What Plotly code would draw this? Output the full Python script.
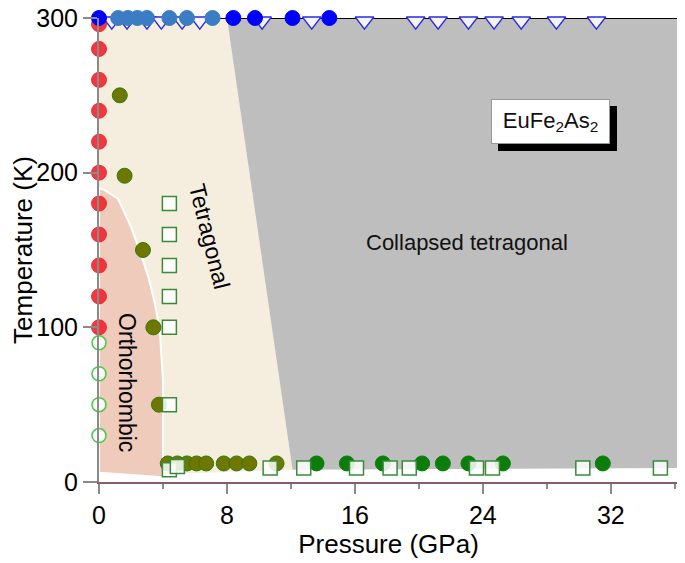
import plotly.graph_objects as go

# Phase regions (pressure GPa, temperature K)
ortho_p = [0, 0, 0.3, 1.2, 2.0, 2.6, 3.1, 3.5, 3.8, 4.0, 4.0, 0]
ortho_t = [6, 190, 189, 183, 165, 148, 132, 115, 98, 66, 3, 6]
tetra_p = [0, 0, 8.0, 12.1, 4.0, 0]
tetra_t = [6, 300, 300, 8, 5, 6]
collapsed_p = [8.0, 36.2, 36.2, 12.1, 8.0]
collapsed_t = [300, 300, 9, 8, 300]

# Measured points
red_p = [0, 0, 0, 0, 0, 0, 0, 0, 0, 0, 0]
red_t = [296, 280, 260, 240, 220, 200, 180, 160, 140, 120, 100]
open_circ_p = [0, 0, 0, 0]
open_circ_t = [90, 70, 50, 30]
olive_p = [1.3, 1.6, 2.75, 3.4, 3.75, 4.3, 4.9, 5.5, 6.1, 6.7, 7.8, 8.6, 9.4, 11.1]
olive_t = [250, 198, 150, 100, 50, 12, 12, 12, 12, 12, 12, 12, 12, 12]
green_p = [13.6, 15.5, 17.75, 20.2, 21.5, 23.1, 25.25, 31.5]
green_t = [12, 12, 12, 12, 12, 12, 12, 12]
square_p = [4.4, 4.4, 4.4, 4.4, 4.4, 4.4, 4.4, 4.9, 10.7, 12.8, 16.1, 18.2, 19.4, 23.6, 24.6, 30.25, 35.1]
square_t = [180, 160, 140, 120, 100, 50, 8, 10, 9, 9, 9, 9, 9, 9, 9, 9, 9]
tri_p = [0.8, 1.75, 3.0, 3.9, 5.2, 6.3, 10.2, 13.3, 16.6, 19.8, 21.2, 23.1, 24.7, 26.4, 28.6, 31.1]
tri_t = [298] * 16
steel_p = [1.2, 1.8, 2.4, 3.0, 4.4, 5.5, 7.1]
steel_t = [300, 300, 300, 300, 300, 300, 300]
blue_p = [0, 8.4, 9.75, 12.1, 14.4]
blue_t = [300, 300, 300, 300, 300]

FONT = "Liberation Sans, Arial, sans-serif"

fig = go.Figure()


def region(px, ty, color, line=None):
    fig.add_scatter(
        x=px, y=ty, fill="toself", fillcolor=color, mode="lines",
        line=line or {"width": 0, "color": color}, hoverinfo="skip", showlegend=False,
    )


region(tetra_p, tetra_t, "#f5eede")
region(collapsed_p, collapsed_t, "#bebebe")
region(ortho_p, ortho_t, "#eecbbb", {"width": 2, "color": "white"})

# frame: top and right edges
fig.add_scatter(x=[0, 36.2], y=[300, 300], mode="lines", line={"color": "black", "width": 2},
                hoverinfo="skip", showlegend=False)
fig.add_scatter(x=[36.2, 36.2], y=[0, 300], mode="lines", line={"color": "#8a8a8a", "width": 2},
                hoverinfo="skip", showlegend=False)


def points(px, ty, symbol, fill, edge, size=15, width=1):
    fig.add_scatter(
        x=px, y=ty, mode="markers", cliponaxis=False, showlegend=False,
        marker={"symbol": symbol, "size": size, "color": fill, "line": {"color": edge, "width": width}},
    )


points(red_p, red_t, "circle", "rgba(240,35,45,0.9)", "rgba(240,35,45,0.9)", 15)
points(open_circ_p, open_circ_t, "circle", "rgba(255,255,255,0.9)", "#44cc44", 14, 1.5)
points(olive_p, olive_t, "circle", "#6e7800", "#2f7a10", 15)
points(green_p, green_t, "circle", "#0a7d0a", "#0a7d0a", 15)
points(square_p, square_t, "square", "rgba(255,255,255,0.85)", "#3a8a3a", 14, 1.5)
points(tri_p, tri_t, "triangle-down", "#f4f4f4", "#2a2ae0", 16, 1.5)
points(steel_p, steel_t, "circle", "#3c7cc4", "#3c7cc4", 15)
points(blue_p, blue_t, "circle", "#0000ff", "#0000ff", 15)

# labels
fig.add_annotation(x=6.9, y=159, text="Tetragonal", showarrow=False, textangle=76,
                   font={"size": 23, "color": "black", "family": FONT})
fig.add_annotation(x=1.75, y=64, text="Orthorhombic", showarrow=False, textangle=90,
                   font={"size": 23, "color": "black", "family": FONT})
fig.add_annotation(x=23.0, y=155, text="Collapsed tetragonal", showarrow=False,
                   font={"size": 22, "color": "#111111", "family": FONT})

label = "EuFe<sub>2</sub>As<sub>2</sub>"
for shift, bg, fg, border in [(7, "black", "black", "black"), (0, "white", "#111111", "#999999")]:
    fig.add_annotation(
        x=28.2, y=233, text=label, showarrow=False, xshift=shift, yshift=-shift,
        width=113, height=39, bgcolor=bg, bordercolor=border, borderwidth=1, borderpad=2,
        font={"size": 22, "color": fg, "family": FONT},
    )

# the page body adds an 8px offset, so the figure is shrunk to fit the window
fig.update_layout(
    width=677,
    height=555,
    margin={"l": 91, "r": 7, "t": 10, "b": 81},
    paper_bgcolor="white",
    plot_bgcolor="white",
    font={"family": FONT, "color": "black"},
)
fig.update_xaxes(
    range=[0, 36.2], tick0=0, dtick=8, showgrid=False, zeroline=False, automargin=False,
    showline=True, linecolor="#8c5b6b", linewidth=2,
    ticks="outside", ticklen=10, tickwidth=2, tickcolor="#8a8a8a",
    minor={"dtick": 4, "ticks": "outside", "ticklen": 5, "tickwidth": 2, "tickcolor": "#8a8a8a"},
    tickfont={"size": 25}, title={"text": "Pressure (GPa)", "font": {"size": 26}, "standoff": 6},
)
fig.update_yaxes(
    range=[0, 300], tick0=0, dtick=100, showgrid=False, zeroline=False, automargin=False,
    showline=True, linecolor="#8a8a8a", linewidth=2, ticklabeloverflow="allow",
    ticks="outside", ticklen=14, tickwidth=2, tickcolor="#8a8a8a",
    tickfont={"size": 25}, title={"text": "Temperature (K)", "font": {"size": 26}, "standoff": 4},
)

fig.write_html("out.html")
